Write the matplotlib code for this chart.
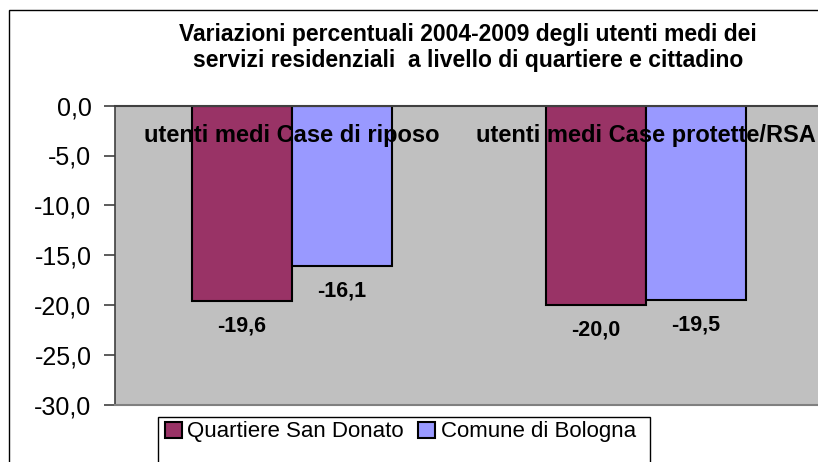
import numpy as np
import matplotlib
matplotlib.use("Agg")
import matplotlib.pyplot as plt
from matplotlib.patches import Rectangle, Patch

plt.rcParams["font.family"] = ["Liberation Sans", "DejaVu Sans"]

categories = ["utenti medi Case di riposo", "utenti medi Case protette/RSA"]
series_names = ["Quartiere San Donato", "Comune di Bologna"]
san_donato = [-19.6, -20.0]
bologna = [-16.1, -19.5]
y_ticks = [0, -5, -10, -15, -20, -25, -30]
title_lines = ["Variazioni percentuali 2004-2009 degli utenti medi dei",
               "servizi residenziali  a livello di quartiere e cittadino"]

C_MAROON = "#993366"
C_BLUE = "#9999FF"
C_PLOT = "#C0C0C0"

W, H = 818, 462
fig = plt.figure(figsize=(W / 100, H / 100), dpi=100)

# outer chart frame (partly cut off on the right and bottom, as in the source)
fig.patches.append(Rectangle((9 / W, -0.2), 2.0, 1 - 10 / H + 0.2,
                             transform=fig.transFigure, fill=False,
                             edgecolor="black", lw=1.0))

# plot area in pixels: left 115, right ~823, top 105.6, bottom 405
ax = fig.add_axes([115 / W, 1 - 405 / H, (823 - 115) / W, (405 - 105.6) / H])
ax.set_facecolor(C_PLOT)

x = np.arange(len(categories))
bw = 0.2825
series = [san_donato, bologna]
colors = [C_MAROON, C_BLUE]
for i, (vals, col) in enumerate(zip(series, colors)):
    xs = x + (i - 0.5) * bw
    ax.bar(xs, vals, width=bw, color=col, edgecolor="black", lw=1.5, zorder=2)
    for xi, v in zip(xs, vals):
        ax.annotate(f"{v:.1f}".replace(".", ","), (xi, v), xytext=(0, -18),
                    textcoords="offset points", ha="center", va="center",
                    fontsize=15.5, fontweight="bold", zorder=4)

for xi, lab in zip(x, categories):
    ax.text(xi, -2.95, lab, ha="center", va="center", fontsize=17,
            fontweight="bold", zorder=5)

ax.set_xlim(-0.5, len(categories) - 0.5)
ax.set_ylim(-30, 0)
ax.set_xticks([])
ax.set_yticks(y_ticks)
ax.set_yticklabels([f"{v:.1f}".replace(".", ",") for v in y_ticks], fontsize=18)
ax.tick_params(axis="y", direction="out", length=8, width=1.2, color="#404040", pad=9)

ax.spines["left"].set_color("#404040")
ax.spines["left"].set_linewidth(1.2)
ax.spines["top"].set_color("#404040")
ax.spines["top"].set_linewidth(1.5)
ax.spines["bottom"].set_color("#808080")
ax.spines["bottom"].set_linewidth(1.5)
ax.spines["right"].set_visible(False)

fig.text(468 / W, 1 - 34 / H, title_lines[0], ha="center", va="center",
         fontsize=16.5, fontweight="bold")
fig.text(468 / W, 1 - 61 / H, title_lines[1], ha="center", va="center",
         fontsize=16.5, fontweight="bold")

# legend box, running off the bottom edge
fig.patches.append(Rectangle((158 / W, -0.2), (650 - 158) / W, 1 - 417 / H + 0.2,
                             transform=fig.transFigure, fill=False,
                             edgecolor="black", lw=1.0))
handles = [Patch(facecolor=c, edgecolor="black", lw=1.5) for c in colors]
fig.legend(handles, series_names, loc="center left",
           bbox_to_anchor=(165 / W, 1 - 432 / H), ncol=2, frameon=False,
           fontsize=16, borderpad=0, borderaxespad=0, handlelength=0.75,
           handleheight=0.75, handletextpad=0.25, columnspacing=0.65)

fig.savefig("out.png", dpi=100)
